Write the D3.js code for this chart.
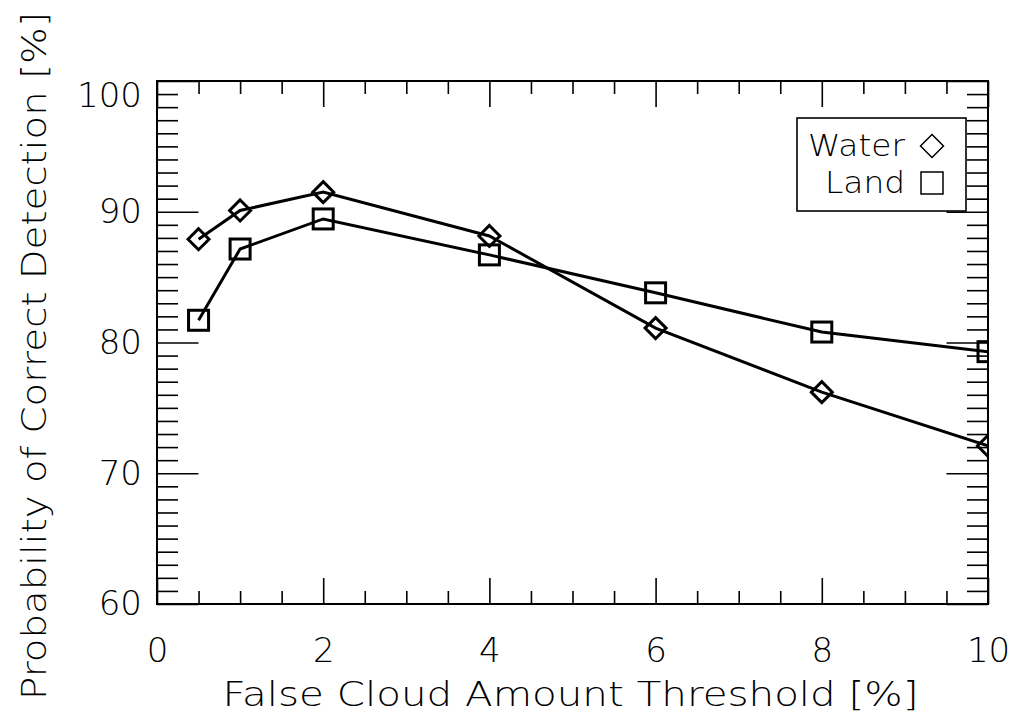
<!DOCTYPE html>
<html>
<head>
<meta charset="utf-8">
<script src="https://cdn.jsdelivr.net/npm/d3@7"></script>
<style>
  html, body { margin: 0; padding: 0; background: #fff; }
  svg { display: block; }
  text { font-family: "DejaVu Sans", sans-serif; font-weight: 200; fill: #000; }
</style>
</head>
<body>
<svg id="chart" width="1013" height="720"></svg>
<script>
const thresholds = [0.5, 1, 2, 4, 6, 8, 10];
const water = [87.9, 90.1, 91.5, 88.15, 81.1, 76.2, 72.1];
const land = [81.7, 87.15, 89.45, 86.7, 83.8, 80.8, 79.3];
const xMajorTicks = [0, 2, 4, 6, 8, 10];
const yMajorTicks = [60, 70, 80, 90, 100];
const seriesNames = ["Water", "Land"];
const xTitle = "False Cloud Amount Threshold [%]";
const yTitle = "Probability of Correct Detection [%]";

const svg = d3.select("#chart");
const L = 157, R = 988, T = 81, B = 604;
const x = d3.scaleLinear().domain([0, 10]).range([L, R]);
const y = d3.scaleLinear().domain([60, 100]).range([B, T]);

const xMinor = d3.range(0, 10.001, 0.5).filter(v => Math.abs(v / 2 - Math.round(v / 2)) > 1e-6);
const yMinor = d3.range(60, 100.001, 1).filter(v => v % 10 !== 0);

const majX = 26, minX = 13, majY = 41.5, minY = 21;

function styleAxis(g) {
  g.select(".domain").remove();
  g.selectAll(".tick line").attr("stroke", "#000").attr("stroke-width", 1.6);
  g.selectAll(".tick text").style("font-size", "34px").attr("fill", "#000");
}

// bottom axis (ticks inward)
svg.append("g").attr("transform", `translate(0,${B})`)
  .call(d3.axisBottom(x).tickValues(xMajorTicks).tickFormat(d3.format("d"))
    .tickSizeInner(-majX).tickSizeOuter(0).tickPadding(34))
  .call(styleAxis);
svg.append("g").attr("transform", `translate(0,${B})`)
  .call(d3.axisBottom(x).tickValues(xMinor).tickFormat("").tickSizeInner(-minX).tickSizeOuter(0))
  .call(styleAxis);
// top axis
svg.append("g").attr("transform", `translate(0,${T})`)
  .call(d3.axisTop(x).tickValues(xMajorTicks).tickFormat("").tickSizeInner(-majX).tickSizeOuter(0))
  .call(styleAxis);
svg.append("g").attr("transform", `translate(0,${T})`)
  .call(d3.axisTop(x).tickValues(xMinor).tickFormat("").tickSizeInner(-minX).tickSizeOuter(0))
  .call(styleAxis);
// left axis
const leftG = svg.append("g").attr("transform", `translate(${L},0)`)
  .call(d3.axisLeft(y).tickValues(yMajorTicks).tickFormat(d3.format("d"))
    .tickSizeInner(-majY).tickSizeOuter(0).tickPadding(15))
  .call(styleAxis);
leftG.selectAll(".tick text").filter(d => d === 100).attr("dy", "0.75em");
svg.append("g").attr("transform", `translate(${L},0)`)
  .call(d3.axisLeft(y).tickValues(yMinor).tickFormat("").tickSizeInner(-minY).tickSizeOuter(0))
  .call(styleAxis);
// right axis
svg.append("g").attr("transform", `translate(${R},0)`)
  .call(d3.axisRight(y).tickValues(yMajorTicks).tickFormat("").tickSizeInner(-majY).tickSizeOuter(0))
  .call(styleAxis);
svg.append("g").attr("transform", `translate(${R},0)`)
  .call(d3.axisRight(y).tickValues(yMinor).tickFormat("").tickSizeInner(-minY).tickSizeOuter(0))
  .call(styleAxis);

// frame
svg.append("rect").attr("x", L).attr("y", T).attr("width", R - L).attr("height", B - T)
  .attr("fill", "none").attr("stroke", "#000").attr("stroke-width", 2);

// clip
svg.append("clipPath").attr("id", "plotclip").append("rect")
  .attr("x", L).attr("y", T).attr("width", R - L).attr("height", B - T);
const plot = svg.append("g").attr("clip-path", "url(#plotclip)");

const line = d3.line().x(d => x(d[0])).y(d => y(d[1]));
const waterPts = thresholds.map((t, i) => [t, water[i]]);
const landPts = thresholds.map((t, i) => [t, land[i]]);

[waterPts, landPts].forEach(pts => {
  plot.append("path").datum(pts).attr("d", line)
    .attr("fill", "none").attr("stroke", "#000").attr("stroke-width", 3);
});

const diamond = (cx, cy, r) => `M${cx},${cy - r}L${cx + r},${cy}L${cx},${cy + r}L${cx - r},${cy}Z`;
plot.selectAll(".wm").data(waterPts).enter().append("path")
  .attr("d", d => diamond(x(d[0]), y(d[1]), 10.5))
  .attr("fill", "none").attr("stroke", "#000").attr("stroke-width", 3);
plot.selectAll(".lm").data(landPts).enter().append("rect")
  .attr("x", d => x(d[0]) - 10).attr("y", d => y(d[1]) - 10)
  .attr("width", 20).attr("height", 20)
  .attr("fill", "none").attr("stroke", "#000").attr("stroke-width", 3);

// legend
const lg = svg.append("g");
lg.append("rect").attr("x", 797).attr("y", 118).attr("width", 169).attr("height", 93)
  .attr("fill", "#fff").attr("stroke", "#000").attr("stroke-width", 1.6);
lg.append("text").attr("x", 905).attr("y", 156).attr("text-anchor", "end")
  .style("font-size", "30px").attr("textLength", 97).attr("lengthAdjust", "spacingAndGlyphs")
  .text(seriesNames[0]);
lg.append("text").attr("x", 905).attr("y", 193).attr("text-anchor", "end")
  .style("font-size", "30px").attr("textLength", 80).attr("lengthAdjust", "spacingAndGlyphs")
  .text(seriesNames[1]);
lg.append("path").attr("d", diamond(932, 146, 11.5))
  .attr("fill", "none").attr("stroke", "#000").attr("stroke-width", 1.5);
lg.append("rect").attr("x", 921).attr("y", 172).attr("width", 22).attr("height", 22)
  .attr("fill", "none").attr("stroke", "#000").attr("stroke-width", 1.5);

// titles
svg.append("text").attr("x", (L + R) / 2 - 2).attr("y", 706).attr("text-anchor", "middle")
  .style("font-size", "34px").attr("textLength", 696).attr("lengthAdjust", "spacingAndGlyphs")
  .text(xTitle);
svg.append("text").attr("transform", "translate(46,356) rotate(-90)").attr("text-anchor", "middle")
  .style("font-size", "34px").attr("textLength", 688).attr("lengthAdjust", "spacingAndGlyphs")
  .text(yTitle);
</script>
</body>
</html>
